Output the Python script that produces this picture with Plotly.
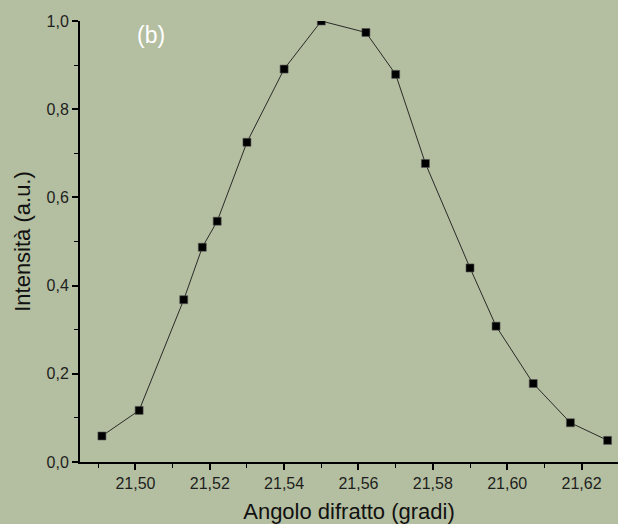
import plotly.graph_objects as go

angle = [21.491, 21.501, 21.513, 21.518, 21.522, 21.530, 21.540, 21.550,
         21.562, 21.570, 21.578, 21.590, 21.597, 21.607, 21.617, 21.627]
intensity = [0.059, 0.117, 0.368, 0.487, 0.546, 0.725, 0.891, 1.0,
             0.974, 0.879, 0.677, 0.440, 0.308, 0.178, 0.089, 0.049]

x_ticks = [21.50, 21.52, 21.54, 21.56, 21.58, 21.60, 21.62]
y_ticks = [0.0, 0.2, 0.4, 0.6, 0.8, 1.0]

bg = "#b4bea0"
font = "Liberation Sans, Arial, sans-serif"

fig = go.Figure()
fig.add_trace(go.Scatter(
    x=angle, y=intensity, mode="lines+markers",
    line=dict(color="#1a1a1a", width=0.9),
    marker=dict(symbol="square", size=8, color="black", line=dict(width=0.6, color="#555555")),
    showlegend=False,
))

fig.add_annotation(x=21.5041, y=0.968, text="(b)", showarrow=False,
                   font=dict(color="white", size=23, family=font),
                   xanchor="center", yanchor="middle")

fig.update_layout(
    width=618, height=524,
    paper_bgcolor=bg, plot_bgcolor=bg,
    margin=dict(l=80, r=0, t=21, b=62, autoexpand=False),
    separators=",.",
    font=dict(family=font, color="#222222"),
    xaxis=dict(
        range=[21.4851, 21.6298], tickvals=x_ticks, tickformat=".2f", automargin=False,
        showgrid=False, zeroline=False, showline=True, linecolor="black", linewidth=2,
        ticks="outside", ticklen=6, tickwidth=1.5, tickcolor="black",
        tickfont=dict(size=16, color="#1e1e1e"),
        minor=dict(ticks="outside", dtick=0.01, tick0=21.49, ticklen=4, tickwidth=1.2, tickcolor="black"),
        title=dict(text="Angolo difratto (gradi)", font=dict(size=22, color="#111111"), standoff=15),
    ),
    yaxis=dict(
        range=[0, 1.0], tickvals=y_ticks, tickformat=".1f", automargin=False,
        showgrid=False, zeroline=False, showline=True, linecolor="black", linewidth=2,
        ticks="outside", ticklen=6, tickwidth=1.5, tickcolor="black",
        tickfont=dict(size=16, color="#1e1e1e"),
        minor=dict(ticks="outside", dtick=0.1, ticklen=4, tickwidth=1.2, tickcolor="black"),
        title=dict(text="Intensità (a.u.)", font=dict(size=22, color="#111111"), standoff=10),
    ),
)

fig.write_html("out.html", config={"displayModeBar": False},
               post_script="document.body.style.margin='0';document.body.style.overflow='hidden';")
